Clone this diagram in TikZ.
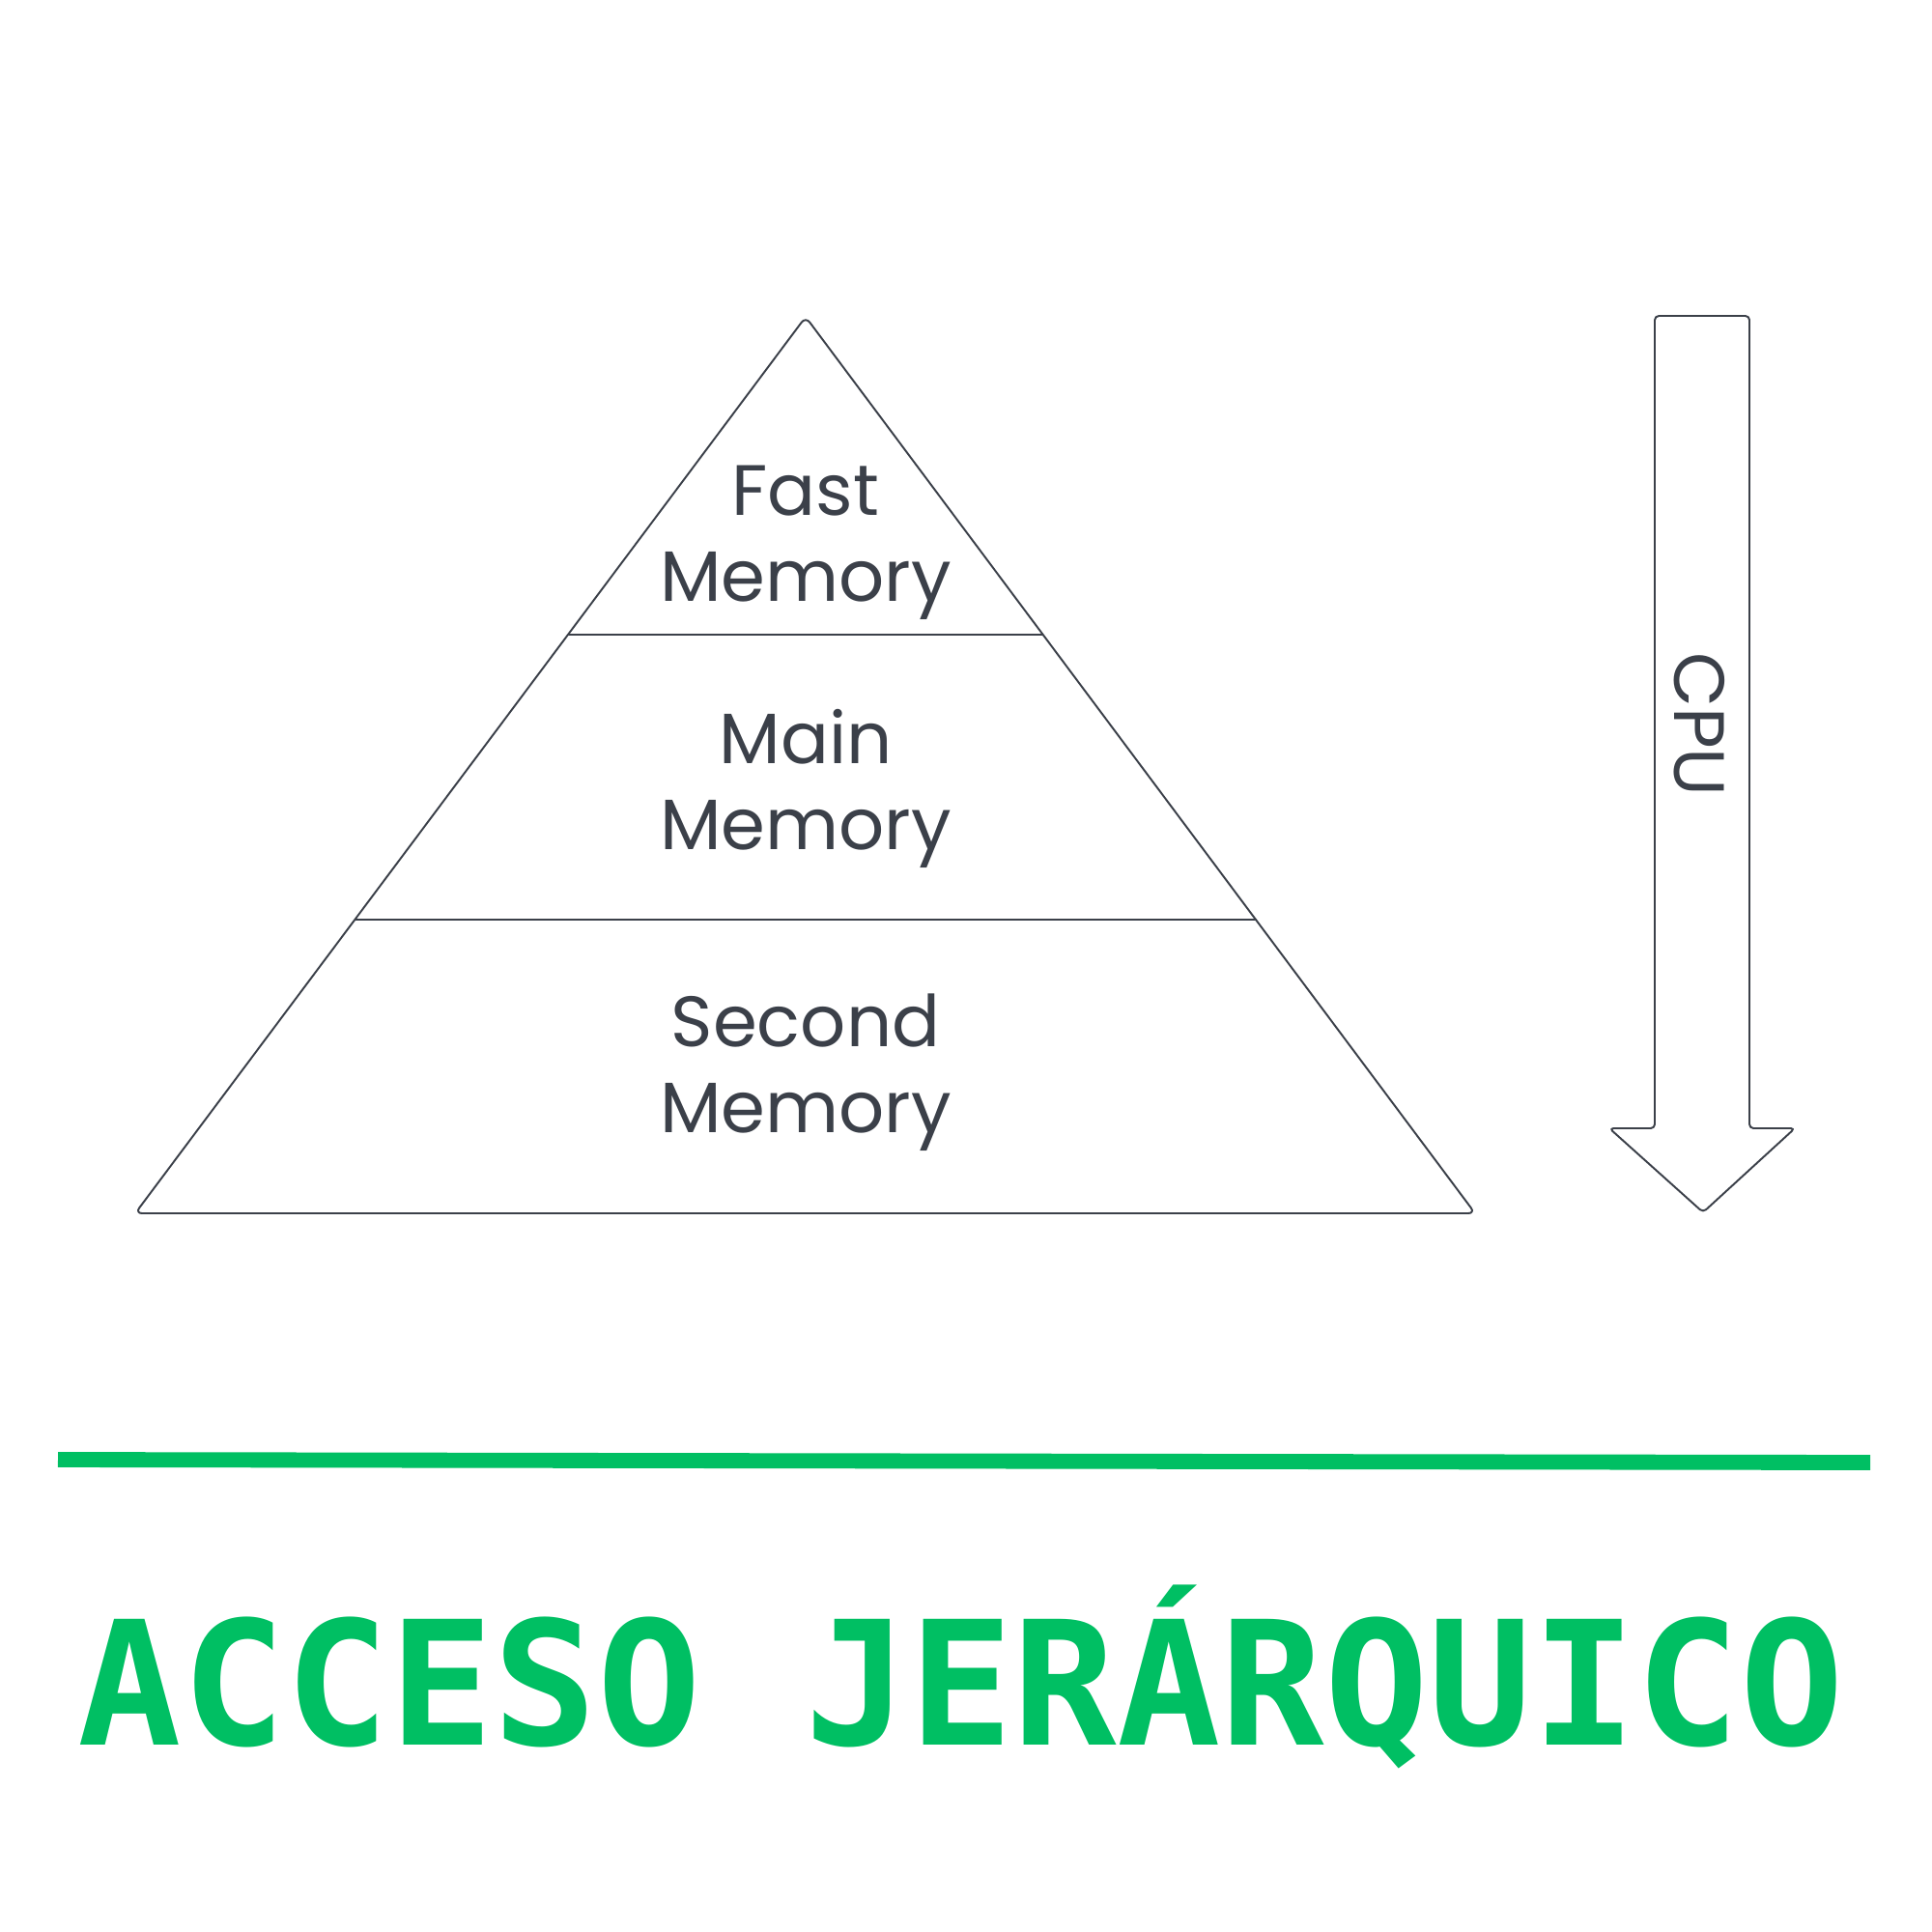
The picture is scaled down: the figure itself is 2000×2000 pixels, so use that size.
\documentclass[tikz,border=0pt]{standalone}
\usepackage{fontspec}
\setmainfont{Poppins}
\newfontfamily\titlefont{DejaVu Sans Mono}
\definecolor{ink}{HTML}{3B4049}
\definecolor{brand}{HTML}{00BF63}
\begin{document}
\begin{tikzpicture}[x=0.01cm,y=-0.01cm,
  outline/.style={draw=ink,line width=0.55pt,line join=round},
  label/.style={text=ink,align=center,inner sep=0pt,anchor=base,
    font=\fontsize{21pt}{25.3pt}\selectfont},
  title/.style={text=brand,inner sep=0pt,anchor=base,
    font=\titlefont\bfseries\fontsize{50.8pt}{60pt}\selectfont}]
\useasboundingbox[fill=white] (0,0) rectangle (2000,2000);
% pyramid
\coordinate (apex) at (834,328);
\coordinate (bl) at (140,1256);
\coordinate (br) at (1527,1256);
\coordinate (l1) at (588,657);
\coordinate (r1) at (1080,657);
\coordinate (l2) at (367,952);
\coordinate (r2) at (1301,952);
\draw[outline,rounded corners=2pt] (apex) -- (br) -- (bl) -- cycle;
\draw[outline] (l1) -- (r1);
\draw[outline] (l2) -- (r2);
\node[label] (fast) at (834,622) {Fast\\Memory};
\node[label] (main) at (834,879) {Main\\Memory};
\node[label] (second) at (834,1172) {Second\\Memory};
% CPU arrow
\coordinate (a1) at (1713,327);
\coordinate (a2) at (1811,327);
\coordinate (a3) at (1811,1168);
\coordinate (a4) at (1858,1168);
\coordinate (a5) at (1763,1255);
\coordinate (a6) at (1666,1168);
\coordinate (a7) at (1713,1168);
\draw[outline,rounded corners=1.2pt] (a1) -- (a2) -- (a3) -- (a4) -- (a5) -- (a6) -- (a7) -- cycle;
\node[text=ink,inner sep=0pt,anchor=base,rotate=-90,font=\fontsize{21pt}{25.3pt}\selectfont] (cpu) at (1733,750) {CPU};
% green rule
\coordinate (g1) at (60,1511);
\coordinate (g2) at (1936,1514);
\draw[brand,line width=4.5pt] (g1) -- (g2);
\node[title] (ttl) at (995,1806) {ACCESO JERÁRQUICO};
\end{tikzpicture}
\end{document}
